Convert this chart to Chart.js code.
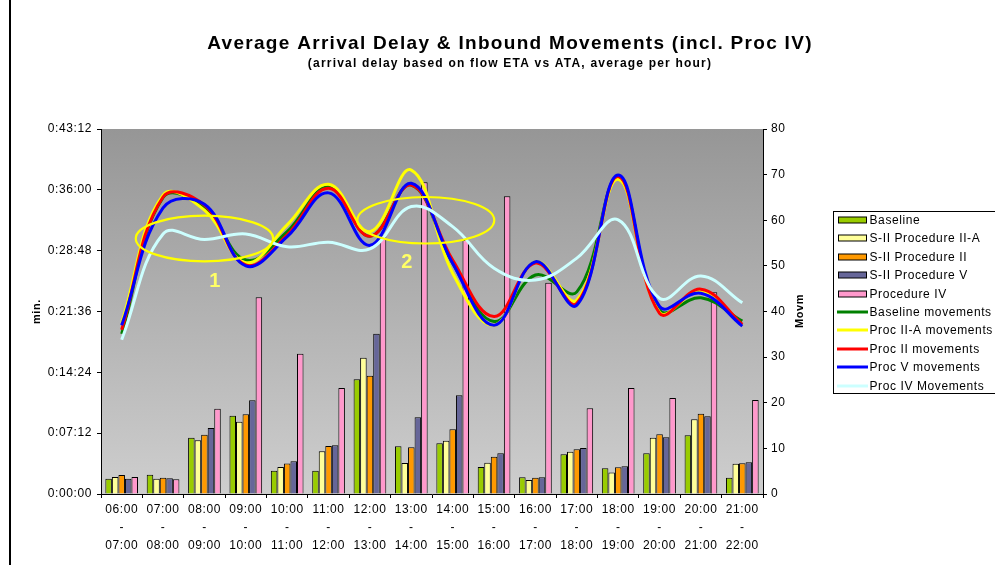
<!DOCTYPE html>
<html>
<head>
<meta charset="utf-8">
<script src="https://cdn.jsdelivr.net/npm/chart.js@4.4.1/dist/chart.umd.min.js"></script>
<style>
  html, body { margin: 0; padding: 0; background: #fff; }
  #wrap { position: relative; width: 995px; height: 565px; }
</style>
</head>
<body>
<div id="wrap"><canvas id="chart" width="995" height="565"></canvas></div>
<script>
// Hourly slots (three-line labels: start / dash / end)
const categories = [
  ['06:00', '-', '07:00'], ['07:00', '-', '08:00'], ['08:00', '-', '09:00'], ['09:00', '-', '10:00'],
  ['10:00', '-', '11:00'], ['11:00', '-', '12:00'], ['12:00', '-', '13:00'], ['13:00', '-', '14:00'],
  ['14:00', '-', '15:00'], ['15:00', '-', '16:00'], ['16:00', '-', '17:00'], ['17:00', '-', '18:00'],
  ['18:00', '-', '19:00'], ['19:00', '-', '20:00'], ['20:00', '-', '21:00'], ['21:00', '-', '22:00']
];

// Average arrival delay per hour, in minutes (left axis)
const delayBaseline = [1.8, 2.28, 6.67, 9.27, 2.76, 2.76, 13.57, 5.64, 6.0, 3.2, 1.97, 4.69, 3.04, 4.81, 6.95, 1.93];
const delayProcIIA  = [2.0, 1.81, 6.35, 8.56, 3.2, 5.05, 16.13, 3.67, 6.3, 3.71, 1.66, 5.0, 2.53, 6.67, 8.84, 3.59];
const delayProcII   = [2.25, 1.93, 7.02, 9.43, 3.6, 5.68, 14.0, 5.52, 7.66, 4.42, 1.93, 5.29, 3.16, 7.07, 9.51, 3.63];
const delayProcV    = [1.8, 1.85, 7.81, 11.09, 3.87, 5.76, 18.97, 9.07, 11.68, 4.81, 1.97, 5.44, 3.27, 6.71, 9.19, 3.75];
const delayProcIV   = [2.0, 1.74, 10.1, 23.28, 16.6, 12.55, 30.6, 36.9, 30.06, 35.25, 25.0, 10.14, 12.55, 11.36, 23.87, 11.13];

// Inbound movements per hour (right axis)
const movBaseline = [35.1, 65.0, 62.7, 51.3, 57.5, 67.3, 56.5, 67.7, 50.6, 37.8, 48.0, 44.3, 69.2, 40.3, 43.0, 37.9];
const movProcIIA  = [37.5, 65.5, 62.2, 50.7, 59.0, 67.9, 57.5, 71.0, 48.4, 37.0, 50.9, 42.5, 69.0, 39.8, 44.5, 37.0];
const movProcII   = [36.0, 65.1, 63.3, 50.2, 56.8, 67.0, 56.5, 67.7, 51.3, 38.9, 50.6, 41.8, 69.6, 39.6, 44.9, 37.2];
const movProcV    = [37.0, 62.7, 63.5, 50.0, 56.4, 66.0, 54.5, 68.1, 50.6, 37.0, 50.9, 41.4, 69.9, 41.1, 44.0, 36.8];
const movProcIV   = [33.8, 57.0, 55.8, 57.0, 54.2, 55.2, 53.7, 63.0, 58.6, 49.5, 46.9, 51.7, 60.1, 42.9, 47.8, 41.9];

// Axis tick values
const delayTicks = [0, 7.2, 14.4, 21.6, 28.8, 36.0, 43.2];
const movTicks = [0, 10, 20, 30, 40, 50, 60, 70, 80];

// Highlighted periods (category index / movements value)
const highlights = [
  { label: '1', index: 2.0, value: 56.0, halfCats: 1.66, halfUnits: 5.0, labelIndex: 2.26, labelValue: 46.5 },
  { label: '2', index: 7.35, value: 60.0, halfCats: 1.655, halfUnits: 5.1, labelIndex: 6.9, labelValue: 50.7 }
];

const FONT = '"Liberation Sans", Arial, Helvetica, sans-serif';
const SPACING = '0.6px';

function clock(min) {
  const t = Math.round(min * 60);
  const h = Math.floor(t / 3600);
  const m = Math.floor((t % 3600) / 60);
  const s = t % 60;
  return h + ':' + String(m).padStart(2, '0') + ':' + String(s).padStart(2, '0');
}

function bar(label, data, color) {
  return {
    type: 'bar', label, data, yAxisID: 'yDelay', order: 10,
    backgroundColor: color, borderColor: '#000', borderWidth: 1,
    categoryPercentage: 0.79, barPercentage: 1.0
  };
}
function line(label, data, color, order) {
  return {
    type: 'line', label, data, yAxisID: 'yMov', order,
    borderColor: color, backgroundColor: color, borderWidth: 3,
    pointRadius: 0, pointHoverRadius: 0, fill: false, tension: 0.4
  };
}

const spacingPlugin = {
  id: 'spacing',
  beforeUpdate(chart) { chart.ctx.letterSpacing = SPACING; },
  beforeLayout(chart) { chart.ctx.letterSpacing = SPACING; },
  beforeDraw(chart) { chart.ctx.letterSpacing = SPACING; }
};

const framePlugin = {
  id: 'frame',
  beforeDraw(chart) {
    const { ctx, chartArea: a } = chart;
    ctx.save();
    ctx.fillStyle = '#fff';
    ctx.fillRect(0, 0, chart.width, chart.height);
    const g = ctx.createLinearGradient(0, a.top, 0, a.bottom);
    g.addColorStop(0, '#969696');
    g.addColorStop(1, '#cecece');
    ctx.fillStyle = g;
    ctx.fillRect(a.left, a.top, a.right - a.left, a.bottom - a.top);
    // outer frame edge
    ctx.fillStyle = '#000';
    ctx.fillRect(9, 0, 2, chart.height);
    ctx.restore();
  },
  afterDraw(chart) {
    const { ctx } = chart;
    ctx.save();
    ctx.fillStyle = '#000';
    ctx.textAlign = 'center';
    ctx.textBaseline = 'middle';
    ctx.letterSpacing = '1.3px';
    ctx.font = 'bold 19px ' + FONT;
    ctx.fillText('Average Arrival Delay & Inbound Movements (incl. Proc IV)', 510, 44);
    ctx.letterSpacing = '1.2px';
    ctx.font = 'bold 12px ' + FONT;
    ctx.fillText('(arrival delay based on flow ETA vs ATA, average per hour)', 510, 64);

    // right axis title
    ctx.letterSpacing = SPACING;
    ctx.font = 'bold 11px ' + FONT;
    ctx.translate(800, 311);
    ctx.rotate(-Math.PI / 2);
    ctx.fillText('Movm', 0, 0);
    ctx.restore();

    // legend
    ctx.save();
    const lx = 833.5, ly = 211.5;
    ctx.fillStyle = '#fff';
    ctx.fillRect(lx, ly, 200, 182);
    ctx.strokeStyle = '#000';
    ctx.lineWidth = 1;
    ctx.strokeRect(lx, ly, 200, 182);
    ctx.font = '12px ' + FONT;
    ctx.letterSpacing = '0.6px';
    ctx.textAlign = 'left';
    ctx.textBaseline = 'middle';
    chart.data.datasets.forEach((ds, i) => {
      const y = Math.round(220 + i * 18.4);
      if (ds.type === 'bar') {
        ctx.fillStyle = ds.backgroundColor;
        ctx.fillRect(838.5, y - 3, 28, 6);
        ctx.strokeStyle = '#000';
        ctx.lineWidth = 1;
        ctx.strokeRect(838.5, y - 3, 28, 6);
      } else {
        ctx.strokeStyle = ds.borderColor;
        ctx.lineWidth = 3;
        ctx.beginPath();
        ctx.moveTo(837, y);
        ctx.lineTo(868, y);
        ctx.stroke();
      }
      ctx.fillStyle = '#000';
      ctx.fillText(ds.label, 869.5, y + 0.5);
    });
    ctx.restore();
  }
};

const highlightPlugin = {
  id: 'highlights',
  afterDatasetsDraw(chart) {
    const { ctx } = chart;
    const xs = chart.scales.x, ys = chart.scales.yMov;
    const catW = xs.getPixelForValue(1) - xs.getPixelForValue(0);
    ctx.save();
    highlights.forEach(h => {
      const cx = xs.getPixelForValue(h.index);
      const cy = ys.getPixelForValue(h.value);
      const rx = h.halfCats * catW;
      const ry = ys.getPixelForValue(0) - ys.getPixelForValue(h.halfUnits);
      ctx.beginPath();
      ctx.ellipse(cx, cy, rx, ry, 0, 0, Math.PI * 2);
      ctx.strokeStyle = '#ffff00';
      ctx.lineWidth = 2.2;
      ctx.stroke();
      ctx.fillStyle = '#ffff66';
      ctx.font = 'bold 20px ' + FONT;
      ctx.textAlign = 'center';
      ctx.textBaseline = 'middle';
      ctx.fillText(h.label, xs.getPixelForValue(h.labelIndex), ys.getPixelForValue(h.labelValue));
    });
    ctx.restore();
  }
};

const tickFont = { family: FONT, size: 12, lineHeight: 1.5 };

new Chart(document.getElementById('chart'), {
  data: {
    labels: categories,
    datasets: [
      bar('Baseline', delayBaseline, '#99cc00'),
      bar('S-II Procedure II-A', delayProcIIA, '#ffff99'),
      bar('S-II Procedure II', delayProcII, '#ff9900'),
      bar('S-II Procedure V', delayProcV, '#666699'),
      bar('Procedure IV', delayProcIV, '#ff99cc'),
      line('Baseline movements', movBaseline, '#008000', 5),
      line('Proc II-A movements', movProcIIA, '#ffff00', 4),
      line('Proc II movements', movProcII, '#ff0000', 3),
      line('Proc V movements', movProcV, '#0000ff', 2),
      line('Proc IV Movements', movProcIV, '#ccffff', 1)
    ]
  },
  options: {
    responsive: false,
    animation: false,
    devicePixelRatio: 1,
    layout: { padding: { left: 10, right: 180, top: 129, bottom: 0 } },
    plugins: { legend: { display: false }, title: { display: false }, tooltip: { enabled: false } },
    events: [],
    scales: {
      x: {
        type: 'category',
        offset: true,
        grid: { offset: true, drawOnChartArea: false, tickLength: 4, color: '#000' },
        border: { color: '#000' },
        ticks: { font: tickFont, color: '#000', maxRotation: 0, autoSkip: false, padding: 3 },
        afterFit(s) { s.height = 71; }
      },
      yDelay: {
        type: 'linear', position: 'left', min: 0, max: 43.2,
        afterBuildTicks(s) { s.ticks = delayTicks.map(v => ({ value: v })); },
        grid: { drawOnChartArea: false, tickLength: 4, color: '#000' },
        border: { color: '#000' },
        ticks: { font: tickFont, color: '#000', padding: 5, callback: v => clock(v) },
        title: { display: true, text: 'min.', color: '#000', font: { family: FONT, size: 11, weight: 'bold' }, padding: { top: 20, bottom: 0 } },
        afterFit(s) { s.width = 91; }
      },
      yMov: {
        type: 'linear', position: 'right', min: 0, max: 80,
        afterBuildTicks(s) { s.ticks = movTicks.map(v => ({ value: v })); },
        grid: { drawOnChartArea: false, tickLength: 4, color: '#000' },
        border: { color: '#000' },
        ticks: { font: tickFont, color: '#000', padding: 4 },
        afterFit(s) { s.width = 52; }
      }
    }
  },
  plugins: [spacingPlugin, framePlugin, highlightPlugin]
});
</script>
</body>
</html>
